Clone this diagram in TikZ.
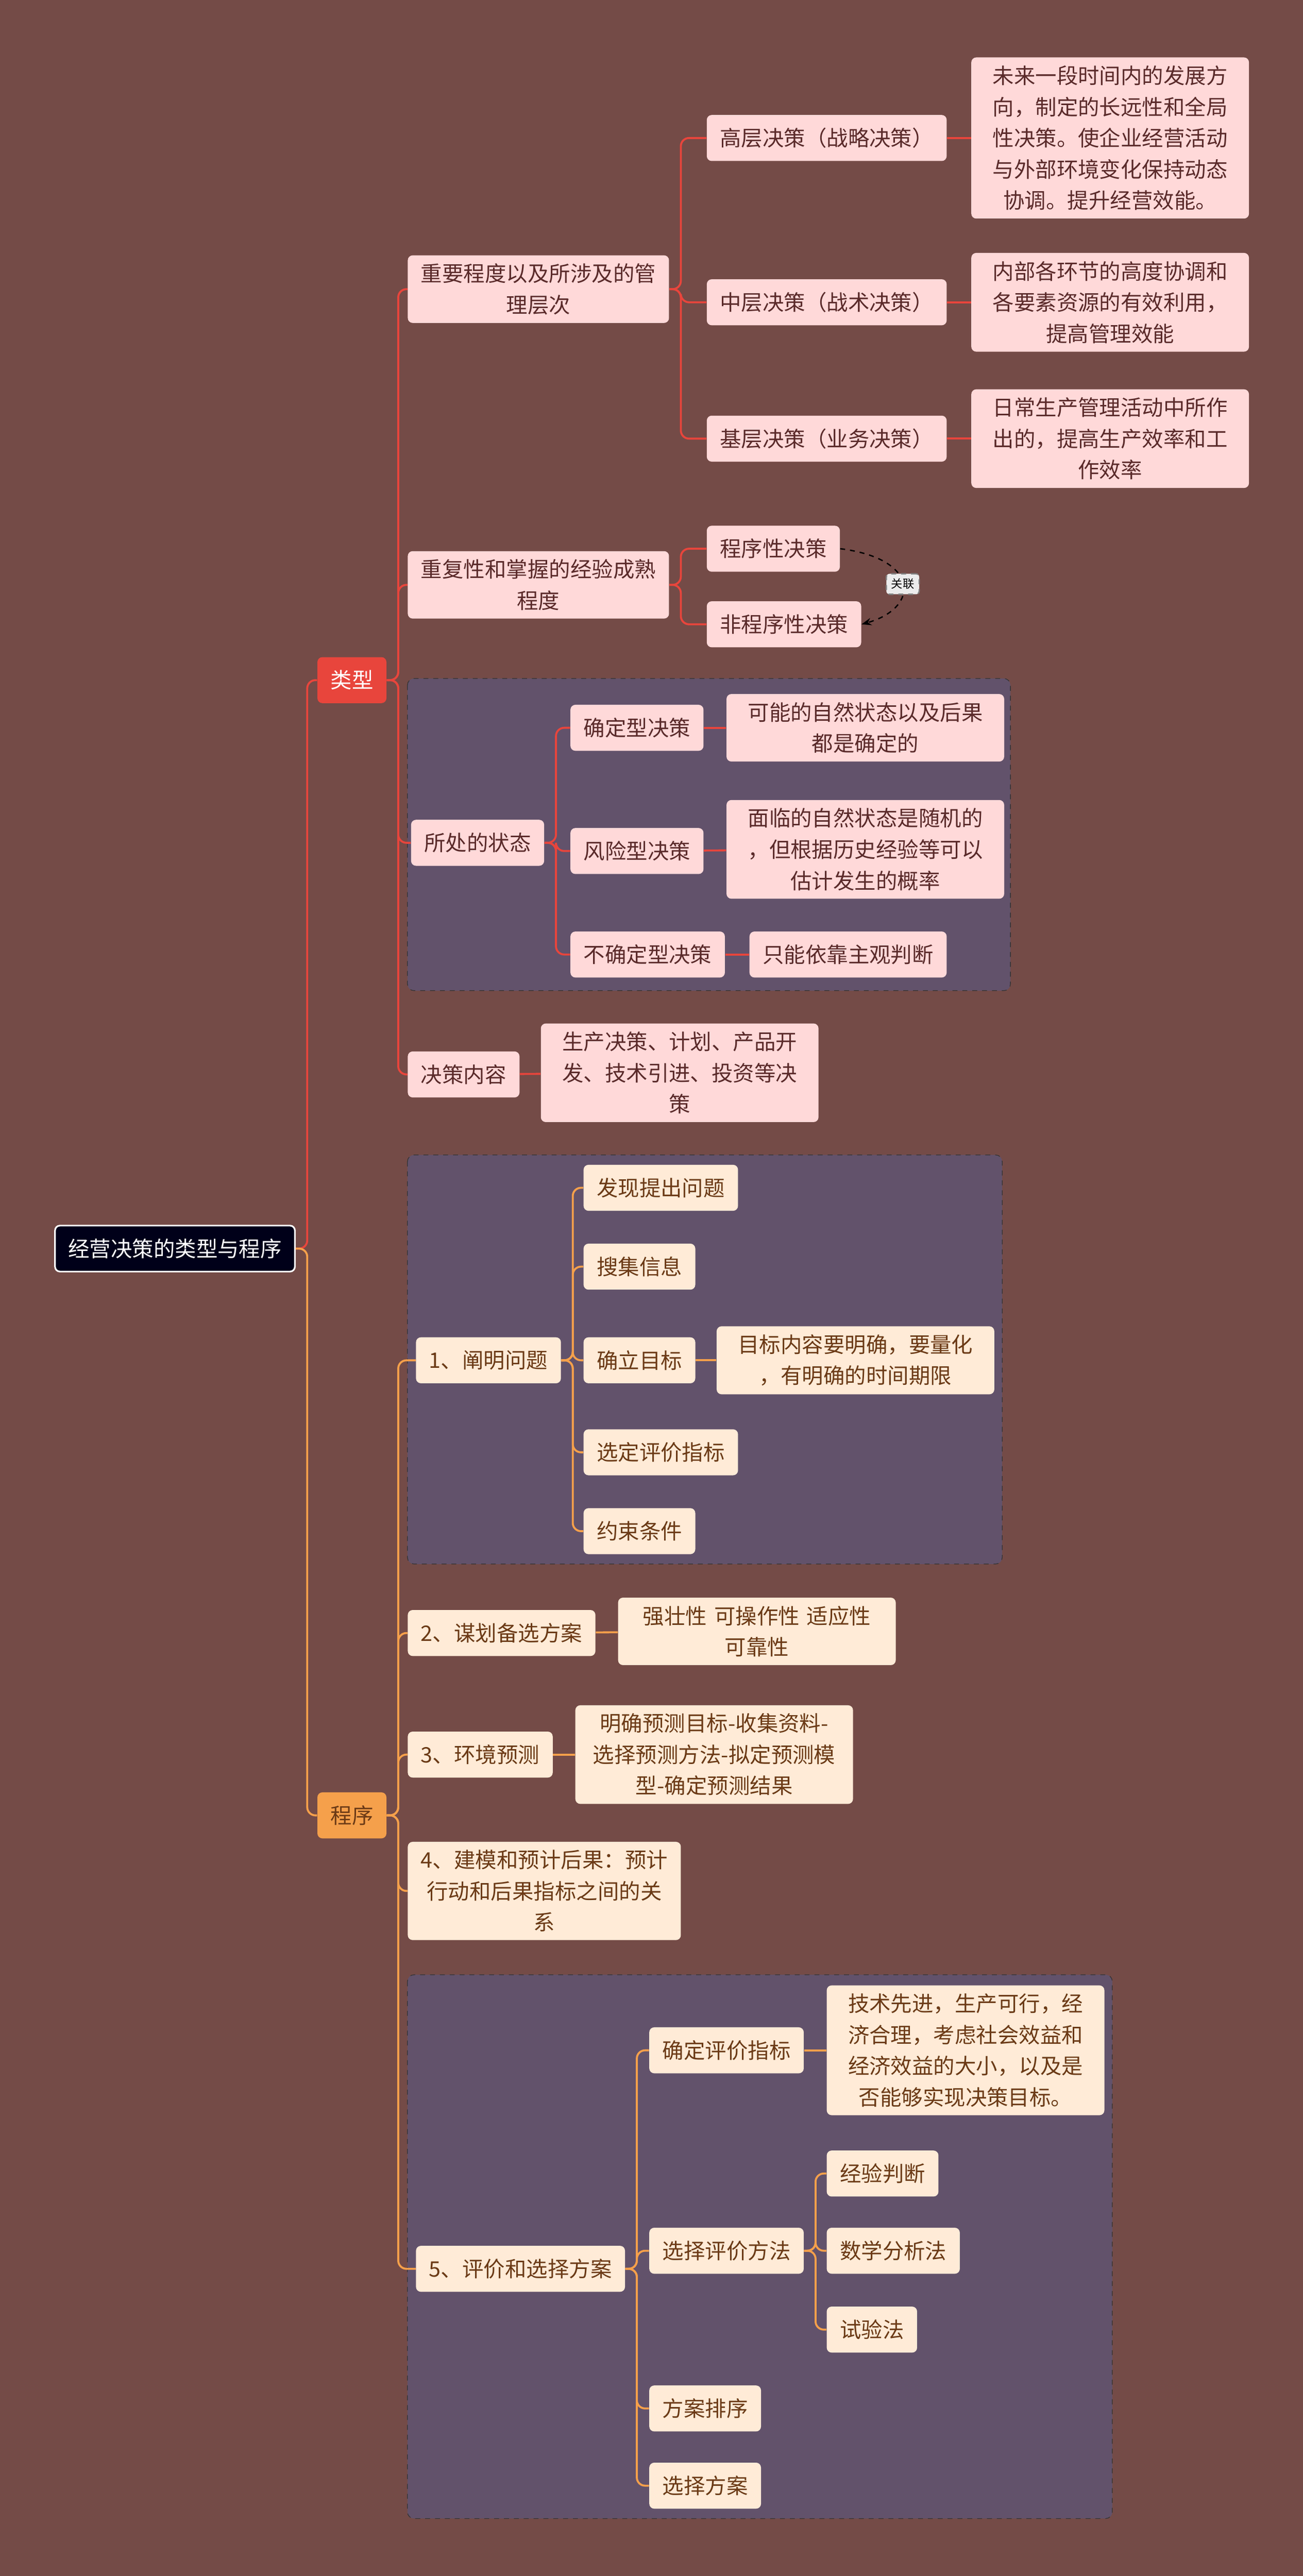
\documentclass[tikz,border=0pt]{standalone}
\usepackage{fontspec}
\setmainfont{Noto Sans CJK SC}
\usetikzlibrary{arrows.meta}
\definecolor{bg}{HTML}{744B47}
\definecolor{grp}{HTML}{62526B}
\definecolor{pk}{HTML}{FFD9D9}
\definecolor{cr}{HTML}{FFEBD7}
\definecolor{rl}{HTML}{E8453C}
\definecolor{ol}{HTML}{F5A04B}
\definecolor{tt}{HTML}{5A2A2A}
\definecolor{ot}{HTML}{6B3A16}
\tikzset{
 base/.style={rounded corners=3pt,inner ysep=5pt,inner xsep=8pt,minimum height=28pt,align=center,font=\fontsize{13}{19}\selectfont,anchor=west},
 tn/.style={base,fill=pk,text=tt},
 pn/.style={base,fill=cr,text=ot},
 grpbox/.style={draw=black!80,dashed,fill=grp,rounded corners=4pt},
 rc/.style={draw=rl,line width=1.2pt,rounded corners=5pt},
 oc/.style={draw=ol,line width=1.2pt,rounded corners=5pt},
}
\begin{document}
\begin{tikzpicture}[x=1pt,y=-1pt]
\fill[bg] (0,0) rectangle (793,1568);
\useasboundingbox (0,0) rectangle (793,1568);
\draw[grpbox] (248,413) rectangle (615,603);
\draw[grpbox] (248,703) rectangle (610,952);
\draw[grpbox] (248,1202) rectangle (677,1533);

\node[base,fill=black!90!blue,draw=white!70,text=white,line width=1pt] (root) at (33,760) {经营决策的类型与程序};
\node[base,fill=rl,text=white] (lx) at (193,414) {类型};
\node[base,fill=ol,text=ot] (cx) at (193,1105) {程序};

% type
\node[tn] (a1) at (248,176) {重要程度以及所涉及的管\\理层次};
\node[tn] (a2) at (248,356) {重复性和掌握的经验成熟\\程度};
\node[tn] (a3) at (250,513) {所处的状态};
\node[tn] (a4) at (248,654) {决策内容};
\node[tn] (b1) at (430,84) {高层决策（战略决策）};
\node[tn] (b2) at (430,184) {中层决策（战术决策）};
\node[tn] (b3) at (430,267) {基层决策（业务决策）};
\node[tn,text width=153pt] (c1) at (591,84) {未来一段时间内的发展方\\向，制定的长远性和全局\\性决策。使企业经营活动\\与外部环境变化保持动态\\协调。提升经营效能。};
\node[tn,text width=153pt] (c2) at (591,184) {内部各环节的高度协调和\\各要素资源的有效利用，\\提高管理效能};
\node[tn,text width=153pt] (c3) at (591,267) {日常生产管理活动中所作\\出的，提高生产效率和工\\作效率};
\node[tn] (d1) at (430,334) {程序性决策};
\node[tn] (d2) at (430,380) {非程序性决策};
\node[tn] (e1) at (347,443) {确定型决策};
\node[tn] (e2) at (347,518) {风险型决策};
\node[tn] (e3) at (347,581) {不确定型决策};
\node[tn,text width=153pt] (f1) at (442,443) {可能的自然状态以及后果\\都是确定的};
\node[tn,text width=153pt] (f2) at (442,517) {面临的自然状态是随机的\\，但根据历史经验等可以\\估计发生的概率};
\node[tn] (f3) at (456,581) {只能依靠主观判断};
\node[tn,text width=153pt] (g1) at (329,653) {生产决策、计划、产品开\\发、技术引进、投资等决\\策};

% program
\node[pn] (p1) at (253,828) {1、阐明问题};
\node[pn] (p2) at (248,994) {2、谋划备选方案};
\node[pn] (p3) at (248,1068) {3、环境预测};
\node[pn] (p4) at (248,1151) {4、建模和预计后果：预计\\行动和后果指标之间的关\\系};
\node[pn] (p5) at (253,1381) {5、评价和选择方案};
\node[pn] (q1) at (355,723) {发现提出问题};
\node[pn] (q2) at (355,771) {搜集信息};
\node[pn] (q3) at (355,828) {确立目标};
\node[pn] (q4) at (355,884) {选定评价指标};
\node[pn] (q5) at (355,932) {约束条件};
\node[pn,text width=153pt] (r3) at (436,828) {目标内容要明确，要量化\\，有明确的时间期限};
\node[pn,text width=153pt] (s2) at (376,993) {强壮性 可操作性 适应性\\可靠性};
\node[pn,text width=153pt] (s3) at (350,1068) {明确预测目标-收集资料-\\选择预测方法-拟定预测模\\型-确定预测结果};
\node[pn] (t1) at (395,1248) {确定评价指标};
\node[pn] (t2) at (395,1370) {选择评价方法};
\node[pn] (t3) at (395,1466) {方案排序};
\node[pn] (t4) at (395,1513) {选择方案};
\node[pn,text width=153pt] (u1) at (503,1248) {技术先进，生产可行，经\\济合理，考虑社会效益和\\经济效益的大小，以及是\\否能够实现决策目标。};
\node[pn] (v1) at (503,1323) {经验判断};
\node[pn] (v2) at (503,1370) {数学分析法};
\node[pn] (v3) at (503,1418) {试验法};

% connectors
\draw[rc] (root.east) -- ++(7,0) |- (lx.west);
\draw[oc] (root.east) -- ++(7,0) |- (cx.west);
\foreach \n in {a1,a2,a3,a4} \draw[rc] (lx.east) -- ++(7,0) |- (\n.west);
\foreach \n in {b1,b2,b3} \draw[rc] (a1.east) -- ++(7,0) |- (\n.west);
\foreach \n in {d1,d2} \draw[rc] (a2.east) -- ++(7,0) |- (\n.west);
\foreach \n in {e1,e2,e3} \draw[rc] (a3.east) -- ++(7,0) |- (\n.west);
\draw[rc] (b1) -- (c1); \draw[rc] (b2) -- (c2); \draw[rc] (b3) -- (c3);
\draw[rc] (e1) -- (f1); \draw[rc] (e2) -- (f2); \draw[rc] (e3) -- (f3);
\draw[rc] (a4) -- (g1);
\draw[black,dashed,line width=0.8pt,-{Stealth[length=6pt]}] (d1.east) .. controls (560,340) and (560,370) .. (d2.east)
 node[pos=0.5,fill=white!85!gray,draw=gray,rounded corners=2pt,font=\fontsize{7}{8}\selectfont,inner sep=3pt] (gl) {关联};
\foreach \n in {p1,p2,p3,p4,p5} \draw[oc] (cx.east) -- ++(7,0) |- (\n.west);
\foreach \n in {q1,q2,q3,q4,q5} \draw[oc] (p1.east) -- ++(7,0) |- (\n.west);
\draw[oc] (q3) -- (r3); \draw[oc] (p2) -- (s2); \draw[oc] (p3) -- (s3);
\foreach \n in {t1,t2,t3,t4} \draw[oc] (p5.east) -- ++(7,0) |- (\n.west);
\draw[oc] (t1) -- (u1);
\foreach \n in {v1,v2,v3} \draw[oc] (t2.east) -- ++(7,0) |- (\n.west);
\end{tikzpicture}
\end{document}
